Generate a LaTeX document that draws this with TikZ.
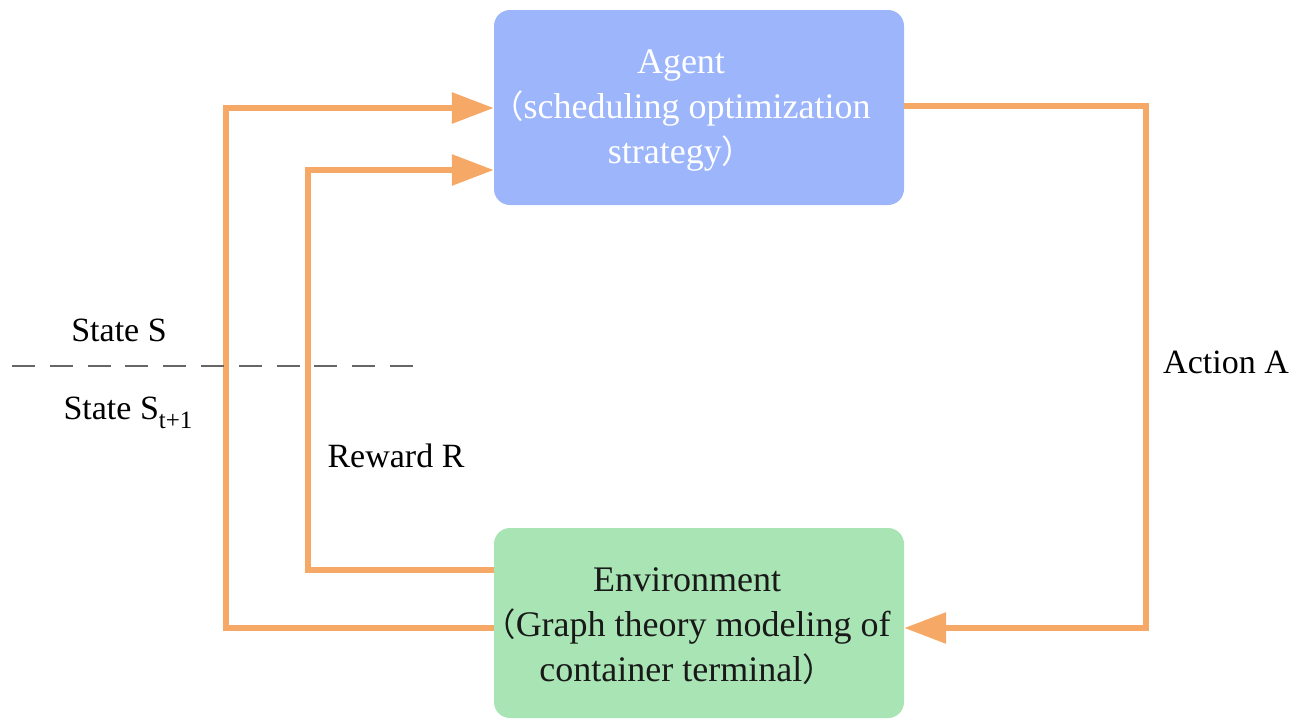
\documentclass[tikz,border=0pt]{standalone}
\usepackage{fontspec}
\setmainfont{Liberation Serif}
\newfontfamily\cjk{Noto Sans CJK SC}[Scale=0.9]
\usetikzlibrary{arrows.meta,calc}
\definecolor{agentblue}{HTML}{9DB5FA}
\definecolor{envgreen}{HTML}{A8E4B4}
\definecolor{flow}{HTML}{F6A866}
\definecolor{sepgray}{HTML}{666666}
\begin{document}
\begin{tikzpicture}[x=1pt,y=-1pt,
  block/.style={rounded corners=16pt, minimum width=410pt, inner sep=0pt},
  blocktext/.style={align=center, font=\fontsize{36}{45}\selectfont, inner sep=0pt},
  flowline/.style={draw=flow, line width=6pt, line join=miter,
    -{Triangle[length=42pt,width=30pt]}},
  lbl/.style={font=\fontsize{34}{36}\selectfont, inner sep=0pt}]
\useasboundingbox (0,0) rectangle (1304,723);

% the two blocks of the loop
\node[block, fill=agentblue, minimum height=195pt] (agent) at (699,107.5) {};
\node[blocktext, text=white] (agentText) at ([xshift=-18pt,yshift=-3pt]agent.center)
  {Agent\\{\cjk （}scheduling optimization\\strategy{\cjk ）}};
\node[block, fill=envgreen, minimum height=190pt] (env) at (699,623) {};
\node[blocktext, text=black!90] (envText) at ([xshift=-12pt,yshift=-3pt]env.center)
  {Environment\\{\cjk （}Graph theory modeling of\\container terminal{\cjk ）}};

% helper rows for the feedback paths
\coordinate (sRow) at (0,628);
\coordinate (rRow) at (0,570);
\coordinate (sTop) at (0,108);
\coordinate (rTop) at (0,170);
\coordinate (aTop) at (0,106);
\coordinate (sCol) at (226,0);
\coordinate (rCol) at (308,0);
\coordinate (aCol) at (1146,0);

% state feedback
\draw[flowline] (env.west |- sRow) -- (sCol |- sRow) -- (sCol |- sTop) -- (agent.west |- sTop);
% reward feedback
\draw[flowline] (env.west |- rRow) -- (rCol |- rRow) -- (rCol |- rTop) -- (agent.west |- rTop);
% action
\draw[flowline] (agent.east |- aTop) -- (aCol |- aTop) -- (aCol |- sRow) -- (env.east |- sRow);

% separator between successive states
\coordinate (dashL) at (12,366);
\coordinate (dashR) at (414,366);
\draw[sepgray, line width=2pt, dash pattern=on 23pt off 14.8pt] (dashL) -- (dashR);

\node[lbl] (stateS) at (119,330) {State S};
\node[lbl] (stateS1) at (128,413) {State S\raisebox{-0.28em}{\fontsize{25}{25}\selectfont t+1}};
\node[lbl] (reward) at (396,456) {Reward R};
\node[lbl] (action) at (1226,362) {Action A};
\end{tikzpicture}
\end{document}
